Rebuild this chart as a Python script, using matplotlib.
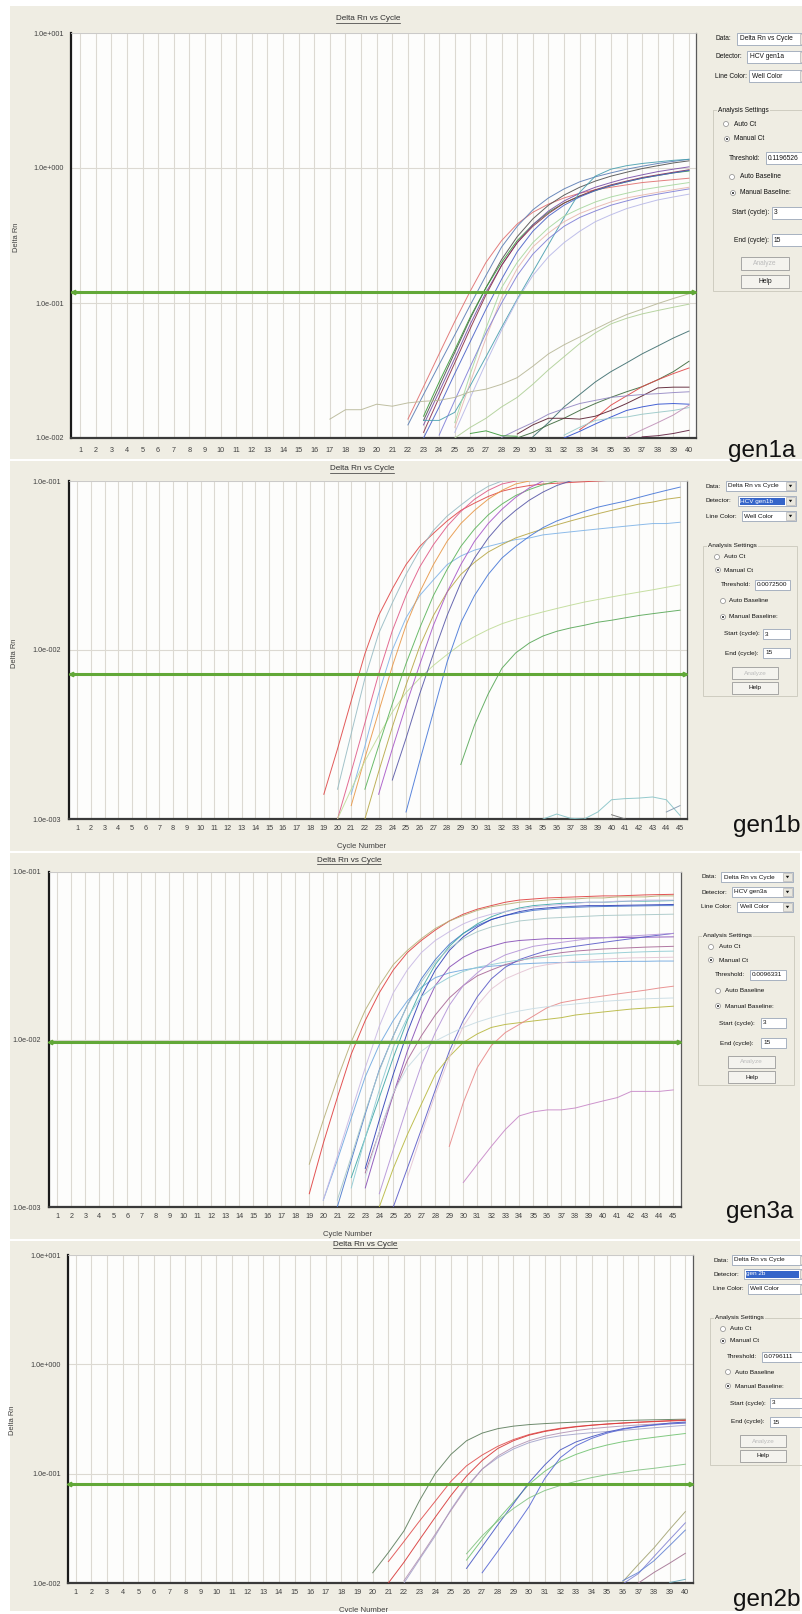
import matplotlib.pyplot as plt
import matplotlib.patches as patches
from matplotlib.ticker import NullLocator
import numpy as np

plt.rcParams['font.family'] = ['Liberation Sans', 'DejaVu Sans']

W, H = 802, 1614
BEIGE = '#efede3'
PLOT_BG = '#fdfdfc'
GRID = '#dcd9d2'
THRESH = '#62a838'

# ---------------- data: Delta Rn per cycle, each well starts at *_start ----------------
gen1a_threshold = 0.1196526
gen1a_start = [22, 22, 23, 23, 23, 23, 23, 23, 25, 25, 24, 25,
               17, 25, 30, 29, 33, 29, 28, 32, 32, 36, 37, 26]
gen1a_drn = [
    [0.0138, 0.024, 0.042, 0.073, 0.123, 0.20, 0.29, 0.385, 0.47, 0.54, 0.60, 0.65, 0.69, 0.72, 0.75, 0.78, 0.80, 0.82, 0.84],
    [0.0125, 0.021, 0.035, 0.058, 0.097, 0.16, 0.26, 0.37, 0.49, 0.60, 0.70, 0.79, 0.86, 0.92, 0.98, 1.03, 1.08, 1.12, 1.16],
    [0.0135, 0.024, 0.043, 0.077, 0.13, 0.21, 0.31, 0.42, 0.53, 0.63, 0.72, 0.80, 0.87, 0.93, 0.99, 1.04, 1.09, 1.13],
    [0.0145, 0.026, 0.045, 0.079, 0.13, 0.20, 0.29, 0.38, 0.47, 0.55, 0.62, 0.68, 0.74, 0.79, 0.84, 0.88, 0.92, 0.95],
    [0.0125, 0.022, 0.039, 0.07, 0.12, 0.19, 0.28, 0.38, 0.48, 0.57, 0.65, 0.72, 0.78, 0.84, 0.89, 0.94, 0.98, 1.02],
    [0.011, 0.02, 0.036, 0.065, 0.115, 0.19, 0.28, 0.37, 0.46, 0.55, 0.62, 0.69, 0.75, 0.80, 0.85, 0.89, 0.93, 0.97],
    [0.010, 0.017, 0.03, 0.052, 0.09, 0.15, 0.24, 0.34, 0.44, 0.53, 0.61, 0.68, 0.74, 0.79, 0.84, 0.88, 0.92, 0.96],
    [0.0135, 0.0135, 0.0155, 0.0245, 0.040, 0.066, 0.107, 0.17, 0.27, 0.43, 0.66, 0.87, 0.98, 1.04, 1.08, 1.11, 1.14, 1.16],
    [0.013, 0.03, 0.065, 0.13, 0.2, 0.28, 0.36, 0.44, 0.5, 0.56, 0.61, 0.65, 0.69, 0.72, 0.75, 0.78],
    [0.012, 0.026, 0.055, 0.11, 0.18, 0.26, 0.33, 0.4, 0.46, 0.51, 0.56, 0.6, 0.63, 0.66, 0.69, 0.72],
    [0.0105, 0.019, 0.034, 0.06, 0.10, 0.16, 0.23, 0.3, 0.37, 0.43, 0.48, 0.53, 0.57, 0.61, 0.64, 0.67, 0.70],
    [0.011, 0.02, 0.036, 0.063, 0.105, 0.16, 0.22, 0.28, 0.34, 0.4, 0.45, 0.5, 0.54, 0.58, 0.61, 0.64],
    [0.0138, 0.0162, 0.0162, 0.0178, 0.0172, 0.0182, 0.0187, 0.019, 0.020, 0.022, 0.023, 0.025,
     0.028, 0.034, 0.042, 0.049, 0.056, 0.064, 0.073, 0.082, 0.09, 0.099, 0.108, 0.117],
    [0.010, 0.012, 0.014, 0.017, 0.020, 0.025, 0.032, 0.040, 0.050, 0.060, 0.070, 0.077, 0.083, 0.088, 0.093, 0.098],
    [0.0102, 0.013, 0.017, 0.021, 0.026, 0.031, 0.036, 0.042, 0.048, 0.055, 0.062],
    [0.010, 0.011, 0.0125, 0.014, 0.016, 0.018, 0.020, 0.022, 0.024, 0.027, 0.031, 0.037],
    [0.0115, 0.014, 0.0175, 0.0205, 0.024, 0.027, 0.030, 0.033],
    [0.0107, 0.0125, 0.014, 0.014, 0.0138, 0.0145, 0.016, 0.018, 0.0205, 0.0235, 0.0238, 0.0238],
    [0.0101, 0.0115, 0.013, 0.015, 0.0165, 0.018, 0.019, 0.020, 0.0205, 0.021, 0.0213, 0.0217, 0.022],
    [0.010, 0.0112, 0.0127, 0.0143, 0.016, 0.017, 0.0178, 0.018, 0.0178],
    [0.0105, 0.012, 0.0135, 0.014, 0.0143, 0.015, 0.0155, 0.016, 0.0168],
    [0.0101, 0.0115, 0.013, 0.0148, 0.0175],
    [0.0102, 0.0104, 0.0108, 0.0114],
    [0.0108, 0.0113, 0.0104, 0.0103],
]
gen1a_colors = ['#e07070', '#5b7db5', '#505050', '#3a9a3a', '#7a4fa8', '#8a3048', '#4a62c8', '#4aa0b0',
                '#a8d8a0', '#e8b8b0', '#8080d8', '#b8b8e8', '#b8b898', '#b0d098', '#3f6f70', '#3d6a3d',
                '#e04848', '#5a1e30', '#9488c4', '#3050d0', '#98c8c8', '#c090b8', '#602040', '#3c9a3c']

gen1b_threshold = 0.0072500
gen1b_start = [19, 20, 20, 21, 21, 20, 22, 22, 23, 24, 25, 29, 35, 40, 44]
gen1b_drn = [
    [0.0014, 0.0026, 0.005, 0.0095, 0.016, 0.023, 0.032, 0.041, 0.049, 0.058, 0.067, 0.074, 0.081,
     0.087, 0.091, 0.094, 0.096, 0.097, 0.098, 0.099, 0.1, 0.101, 0.102],
    [0.0015, 0.0032, 0.0068, 0.0125, 0.019, 0.028, 0.039, 0.051, 0.062, 0.072, 0.083, 0.093, 0.1, 0.107],
    [0.001, 0.0019, 0.0037, 0.0072, 0.013, 0.021, 0.031, 0.042, 0.054, 0.066, 0.078, 0.088, 0.096, 0.1, 0.104],
    [0.0014, 0.0027, 0.0055, 0.01, 0.0155, 0.021, 0.026, 0.032, 0.036, 0.039, 0.041, 0.043, 0.045,
     0.046, 0.048, 0.049, 0.05, 0.051, 0.052, 0.053, 0.054, 0.055, 0.056, 0.056, 0.057],
    [0.0012, 0.0023, 0.0043, 0.008, 0.014, 0.022, 0.032, 0.044, 0.056, 0.067, 0.078, 0.088, 0.096, 0.1, 0.104],
    [0.001, 0.0015, 0.0022, 0.0031, 0.0043, 0.0056, 0.0068, 0.0081, 0.0094, 0.0108, 0.012, 0.0132, 0.0143,
     0.0152, 0.016, 0.0168, 0.0176, 0.0184, 0.0192, 0.0199, 0.0206, 0.0213, 0.022, 0.0227, 0.0235, 0.0243],
    [0.0015, 0.0027, 0.0048, 0.0083, 0.0135, 0.021, 0.03, 0.041, 0.052, 0.063, 0.073, 0.082, 0.089, 0.095, 0.1, 0.104],
    [0.001, 0.0019, 0.0035, 0.0062, 0.0105, 0.016, 0.022, 0.028, 0.033, 0.038, 0.042, 0.046, 0.049,
     0.052, 0.055, 0.058, 0.061, 0.064, 0.067, 0.07, 0.073, 0.075, 0.078, 0.08],
    [0.0014, 0.0026, 0.0047, 0.0082, 0.014, 0.022, 0.032, 0.044, 0.056, 0.068, 0.080, 0.091, 0.1, 0.108],
    [0.0017, 0.003, 0.0055, 0.0095, 0.016, 0.025, 0.035, 0.046, 0.057, 0.067, 0.077, 0.086, 0.094, 0.1, 0.105],
    [0.0011, 0.0022, 0.0043, 0.0085, 0.0145, 0.021, 0.028, 0.035, 0.041, 0.047, 0.053, 0.058, 0.062,
     0.066, 0.07, 0.073, 0.076, 0.080, 0.084, 0.088, 0.092],
    [0.0021, 0.0036, 0.0055, 0.0078, 0.0096, 0.011, 0.0121, 0.0129, 0.0135, 0.014, 0.0146, 0.015,
     0.0155, 0.016, 0.0164, 0.0168, 0.0172],
    [0.001, 0.00107, 0.00101, 0.001, 0.0011, 0.0013, 0.00132, 0.00133, 0.00135, 0.0013, 0.00105],
    [0.00106, 0.001],
    [0.0011, 0.0012],
]
gen1b_colors = ['#e04848', '#98bcc4', '#e05c88', '#80b4e8', '#e89848', '#c0dc98', '#5cb45c', '#b8a848',
                '#a858c8', '#5858a8', '#4878d8', '#58a858', '#88c4c8', '#707070', '#8098b0']

gen3a_threshold = 0.0096331
gen3a_start = [19, 19, 20, 21, 23, 22, 23, 23, 25, 24, 29, 30, 23, 22, 21, 20, 26, 24]
gen3a_drn = [
    [0.0012, 0.0024, 0.0045, 0.0082, 0.013, 0.019, 0.026, 0.033, 0.039, 0.045, 0.051, 0.056, 0.06, 0.063,
     0.066, 0.068, 0.069, 0.07, 0.0705, 0.071, 0.0715, 0.072, 0.072, 0.0725, 0.073, 0.0733, 0.0736],
    [0.0018, 0.0033, 0.0058, 0.0097, 0.015, 0.021, 0.028, 0.034, 0.04, 0.046, 0.051, 0.055, 0.059, 0.062,
     0.064, 0.066, 0.067, 0.068, 0.069, 0.069, 0.07, 0.07, 0.071, 0.071, 0.071, 0.072, 0.072],
    [0.0011, 0.0019, 0.0034, 0.006, 0.0093, 0.013, 0.017, 0.0205, 0.0234, 0.025, 0.026, 0.0268, 0.0274,
     0.0278, 0.0282, 0.0285, 0.0287, 0.0288, 0.0289, 0.029, 0.0291, 0.0292, 0.0293, 0.0293, 0.0294, 0.0294],
    [0.001, 0.0019, 0.0036, 0.0066, 0.0105, 0.016, 0.023, 0.03, 0.037, 0.043, 0.048, 0.052, 0.055, 0.057,
     0.059, 0.06, 0.061, 0.0615, 0.062, 0.0622, 0.0624, 0.0626, 0.0628, 0.063, 0.063],
    [0.0017, 0.0033, 0.0062, 0.011, 0.018, 0.026, 0.034, 0.041, 0.047, 0.052, 0.055, 0.058, 0.06, 0.061,
     0.062, 0.0625, 0.063, 0.063, 0.0632, 0.0634, 0.0636, 0.0638, 0.064],
    [0.0015, 0.0026, 0.0045, 0.0078, 0.013, 0.02, 0.028, 0.036, 0.043, 0.049, 0.054, 0.058, 0.061, 0.063,
     0.064, 0.065, 0.0655, 0.066, 0.066, 0.0665, 0.067, 0.067, 0.0672, 0.0675],
    [0.0013, 0.0025, 0.0047, 0.0085, 0.014, 0.021, 0.027, 0.031, 0.034, 0.036, 0.038, 0.039, 0.0395, 0.04,
     0.04, 0.0402, 0.0404, 0.0405, 0.0406, 0.0407, 0.0408, 0.0409, 0.041],
    [0.0016, 0.0028, 0.0047, 0.0075, 0.0105, 0.014, 0.0177, 0.021, 0.024, 0.026, 0.028, 0.0295, 0.031,
     0.032, 0.033, 0.0337, 0.0342, 0.0347, 0.035, 0.0353, 0.0356, 0.0358, 0.036],
    [0.001, 0.0017, 0.0029, 0.005, 0.0085, 0.013, 0.018, 0.023, 0.027, 0.03, 0.032, 0.034, 0.035, 0.036,
     0.037, 0.038, 0.039, 0.040, 0.041, 0.042, 0.043],
    [0.001, 0.0017, 0.0027, 0.0041, 0.0062, 0.0079, 0.0096, 0.0108, 0.0118, 0.0123, 0.0126, 0.0129,
     0.0132, 0.0135, 0.014, 0.0143, 0.0146, 0.0149, 0.0152, 0.0154, 0.0156, 0.0158],
    [0.0023, 0.0042, 0.0068, 0.0092, 0.011, 0.0123, 0.0138, 0.0155, 0.0166, 0.0172, 0.0177, 0.0182,
     0.0187, 0.0192, 0.0197, 0.0203, 0.0208],
    [0.0014, 0.0018, 0.0023, 0.0029, 0.0035, 0.0037, 0.0038, 0.0038, 0.0039, 0.0041, 0.0043, 0.0045,
     0.0049, 0.0049, 0.0049, 0.005],
    [0.0015, 0.0028, 0.0048, 0.0068, 0.0085, 0.0098, 0.0108, 0.0118, 0.0127, 0.0135, 0.0142, 0.0148,
     0.0153, 0.0157, 0.016, 0.0163, 0.0166, 0.0169, 0.0171, 0.0173, 0.0175, 0.0176, 0.0177],
    [0.0013, 0.0026, 0.005, 0.009, 0.0135, 0.018, 0.021, 0.0235, 0.0255, 0.027, 0.028, 0.029, 0.0298,
     0.0305, 0.031, 0.0315, 0.032, 0.0323, 0.0326, 0.0329, 0.0332, 0.0334, 0.0336, 0.0337],
    [0.0011, 0.002, 0.0037, 0.0065, 0.0105, 0.016, 0.022, 0.029, 0.035, 0.04, 0.044, 0.047, 0.049, 0.051,
     0.052, 0.053, 0.0535, 0.054, 0.0545, 0.055, 0.0552, 0.0554, 0.0556, 0.0558, 0.056],
    [0.0011, 0.002, 0.0037, 0.0068, 0.012, 0.019, 0.026, 0.033, 0.039, 0.044, 0.049, 0.053, 0.056, 0.058,
     0.06, 0.062, 0.063, 0.064, 0.065, 0.066, 0.066, 0.067, 0.067, 0.068, 0.068, 0.068],
    [0.0015, 0.0027, 0.0047, 0.0078, 0.012, 0.016, 0.02, 0.023, 0.025, 0.027, 0.028, 0.0287, 0.0293,
     0.0298, 0.0302, 0.0305, 0.0307, 0.0308, 0.0309, 0.031],
    [0.0012, 0.0022, 0.004, 0.007, 0.011, 0.016, 0.021, 0.025, 0.029, 0.032, 0.034, 0.036, 0.037, 0.038,
     0.039, 0.040, 0.0405, 0.041, 0.0415, 0.042, 0.0425, 0.043],
]
gen3a_colors = ['#e04040', '#b8b078', '#70a8e0', '#4a78cc', '#3040b8', '#40a8a8', '#8850b8', '#a86898',
                '#5c5cc8', '#b8b840', '#e88888', '#c888c8', '#c8dce4', '#90ccd4', '#a8c8c8', '#c8b8e4',
                '#e4c4d4', '#b494d8']

gen2b_threshold = 0.0796111
gen2b_start = [20, 21, 21, 22, 22, 26, 26, 27, 26, 36, 36, 36, 37, 39]
gen2b_drn = [
    [0.0124, 0.019, 0.03, 0.057, 0.1, 0.15, 0.2, 0.235, 0.258, 0.272, 0.281, 0.287, 0.292, 0.296, 0.3,
     0.303, 0.306, 0.309, 0.311, 0.313, 0.315],
    [0.0157, 0.024, 0.037, 0.056, 0.085, 0.118, 0.148, 0.178, 0.205, 0.228, 0.246, 0.26, 0.27, 0.278,
     0.285, 0.291, 0.296, 0.301, 0.306, 0.31],
    [0.01, 0.0155, 0.025, 0.04, 0.063, 0.095, 0.132, 0.17, 0.2, 0.225, 0.243, 0.257, 0.268, 0.277, 0.284,
     0.29, 0.295, 0.299, 0.303, 0.307],
    [0.01, 0.0165, 0.027, 0.047, 0.076, 0.11, 0.14, 0.168, 0.192, 0.21, 0.222, 0.23, 0.237, 0.243, 0.249,
     0.256, 0.263, 0.27, 0.277],
    [0.0105, 0.017, 0.028, 0.046, 0.074, 0.11, 0.145, 0.175, 0.2, 0.22, 0.235, 0.248, 0.258, 0.266, 0.273,
     0.279, 0.284, 0.289, 0.293],
    [0.0162, 0.025, 0.038, 0.055, 0.08, 0.105, 0.13, 0.15, 0.168, 0.183, 0.196, 0.206, 0.215, 0.224, 0.233],
    [0.0136, 0.0215, 0.034, 0.053, 0.083, 0.12, 0.165, 0.195, 0.218, 0.24, 0.258, 0.27, 0.28, 0.29, 0.297],
    [0.0124, 0.0195, 0.031, 0.05, 0.09, 0.14, 0.18, 0.21, 0.235, 0.255, 0.268, 0.278, 0.285, 0.29],
    [0.0185, 0.027, 0.037, 0.048, 0.06, 0.07, 0.078, 0.085, 0.092, 0.098, 0.103, 0.108, 0.112, 0.117, 0.122],
    [0.0103, 0.0148, 0.021, 0.031, 0.045],
    [0.0098, 0.0122, 0.0175, 0.025, 0.0355],
    [0.0105, 0.0125, 0.016, 0.022, 0.0305],
    [0.01, 0.0125, 0.0152, 0.0187],
    [0.0101, 0.0108],
]
gen2b_colors = ['#5e7e5e', '#e05050', '#d83838', '#a4a4cc', '#b494b4', '#74c474', '#4858c4', '#5868d4',
                '#84c484', '#a4a474', '#8484d4', '#6484d4', '#a47494', '#68a8b8']

# ---------------- layout (pixels, origin top-left) ----------------
panels = [
    dict(tag='gen1a', start=gen1a_start, drn=gen1a_drn, colors=gen1a_colors, thr=gen1a_threshold,
         thr_text='0.1196526', detector='HCV gen1a', n=40, ylim=(1e-2, 1e1),
         bg=(10, 6, 802, 459), box=(71, 33, 696, 438), xlim=(0.42, 40.45), xpad=6.2, ypad=5.0,
         title=(368, 19), ylabel=(17, 237), xlabel=None, tagpos=(762, 451),
         ui=dict(lab_x=715, rows=(39, 57, 76), combo_x=(737, 747, 749), combo_r=810, combo_h=12, hl=False,
                 grp=(713, 110, 810, 291), ct=((726, 124), (727, 139)), ct_tx=734,
                 thr_lab=(729, 158), thr_box=(766, 810), bl=((732, 177), (733, 193)), bl_tx=740,
                 start_lab=(732, 213), start_box=(772, 810), end_lab=(734, 240), end_box=(772, 810),
                 btn_x=(741, 789), analyze_y=(257, 270), help_y=(275, 288), fs=4.8)),
    dict(tag='gen1b', start=gen1b_start, drn=gen1b_drn, colors=gen1b_colors, thr=gen1b_threshold,
         thr_text='0.0072500', detector='HCV gen1b', n=45, ylim=(1e-3, 1e-1),
         bg=(10, 461, 802, 851), box=(69, 481, 687, 819), xlim=(0.40, 45.51), xpad=4.6, ypad=5.5,
         title=(362, 469), ylabel=(15, 653), xlabel=(362, 846), tagpos=(767, 826),
         ui=dict(lab_x=706, rows=(486, 501, 516), combo_x=(726, 738, 742), combo_r=796, combo_h=10, hl=True,
                 grp=(703, 546, 797, 696), ct=((717, 557), (718, 570)), ct_tx=724,
                 thr_lab=(721, 585), thr_box=(755, 790), bl=((723, 601), (723, 617)), bl_tx=729,
                 start_lab=(724, 634), start_box=(763, 790), end_lab=(725, 653), end_box=(763, 790),
                 btn_x=(732, 778), analyze_y=(667, 679), help_y=(682, 694), fs=4.6)),
    dict(tag='gen3a', start=gen3a_start, drn=gen3a_drn, colors=gen3a_colors, thr=gen3a_threshold,
         thr_text='0.0096331', detector='HCV gen3a', n=45, ylim=(1e-3, 1e-1),
         bg=(10, 853, 800, 1239), box=(48.6, 872, 681, 1207), xlim=(0.38, 45.55), xpad=4.6, ypad=5.3,
         title=(349, 860), ylabel=None, xlabel=(348, 1234), tagpos=(760, 1212),
         ui=dict(lab_x=701, rows=(877, 892, 907), combo_x=(721, 732, 737), combo_r=793, combo_h=10, hl=False,
                 grp=(698, 936, 794, 1085), ct=((711, 947), (711, 960)), ct_tx=719,
                 thr_lab=(715, 975), thr_box=(750, 786), bl=((718, 991), (718, 1006)), bl_tx=725,
                 start_lab=(719, 1023), start_box=(761, 786), end_lab=(720, 1043), end_box=(761, 786),
                 btn_x=(728, 775), analyze_y=(1056, 1068), help_y=(1071, 1083), fs=4.6)),
    dict(tag='gen2b', start=gen2b_start, drn=gen2b_drn, colors=gen2b_colors, thr=gen2b_threshold,
         thr_text='0.0796111', detector='gen 2b', n=40, ylim=(1e-2, 1e1),
         bg=(10, 1241, 800, 1611), box=(67.5, 1255, 693, 1583), xlim=(0.47, 40.49), xpad=4.6, ypad=4.8,
         title=(365, 1244), ylabel=(13, 1420), xlabel=(364, 1611), tagpos=(767, 1600),
         ui=dict(lab_x=713, rows=(1260, 1274, 1289), combo_x=(732, 744, 748), combo_r=810, combo_h=10, hl=True,
                 grp=(710, 1318, 810, 1465), ct=((723, 1329), (723, 1341)), ct_tx=730,
                 thr_lab=(727, 1357), thr_box=(762, 810), bl=((728, 1372), (728, 1386)), bl_tx=735,
                 start_lab=(730, 1403), start_box=(770, 810), end_lab=(731, 1422), end_box=(770, 810),
                 btn_x=(740, 786), analyze_y=(1435, 1447), help_y=(1450, 1462), fs=4.6)),
]


def px_axes(fig, l, t, r, b, zorder=1):
    return fig.add_axes([l / W, 1 - b / H, (r - l) / W, (b - t) / H], zorder=zorder)


def ui_text(bg, x, y, s, fs, color='#111111', ha='left', **kw):
    return bg.text(x, y, s, fontsize=fs, ha=ha, va='center', color=color, **kw)


def combo(bg, x0, x1, y, h, s, fs, highlight=False):
    bg.add_patch(patches.Rectangle((x0, y - h / 2), x1 - x0, h, fc='white', ec='#9aa6b8', lw=0.6))
    bx = x1 - 10
    if highlight:
        bg.add_patch(patches.Rectangle((x0 + 1.5, y - h / 2 + 1.5), bx - x0 - 3, h - 3, fc='#3565c9', ec='none'))
    ui_text(bg, x0 + 2.5, y, s, fs, color='white' if highlight else '#111111')
    bg.add_patch(patches.Rectangle((bx, y - h / 2 + 1), 9, h - 2, fc='#e9e7de', ec='#a8a8a8', lw=0.4))
    bg.add_patch(patches.Polygon([(bx + 2.8, y - 1.2), (bx + 6.2, y - 1.2), (bx + 4.5, y + 1.3)],
                                 closed=True, fc='#111111', ec='none'))


def field(bg, x0, x1, y, h, s, fs):
    bg.add_patch(patches.Rectangle((x0, y - h / 2), x1 - x0, h, fc='white', ec='#9aa6b8', lw=0.6))
    ui_text(bg, x0 + 2, y, s, fs)


def radio(bg, x, y, selected):
    bg.add_patch(patches.Circle((x, y), 2.5, fc='white', ec='#8a8a8a', lw=0.5))
    if selected:
        bg.add_patch(patches.Circle((x, y), 1.0, fc='#202020', ec='none'))


def button(bg, x0, x1, y0, y1, s, fs, enabled=True):
    bg.add_patch(patches.Rectangle((x0, y0), x1 - x0, y1 - y0, fc='#f4f3ee', ec='#9a9a9a', lw=0.6))
    ui_text(bg, (x0 + x1) / 2, (y0 + y1) / 2, s, fs, ha='center',
            color='#111111' if enabled else '#bcbcbc')


def draw_controls(bg, p):
    u = p['ui']
    fs = u['fs']
    labels = ['Data:', 'Detector:', 'Line Color:']
    values = ['Delta Rn vs Cycle', p['detector'], 'Well Color']
    for i, (lab, val, y, x0) in enumerate(zip(labels, values, u['rows'], u['combo_x'])):
        ui_text(bg, u['lab_x'], y, lab, fs)
        combo(bg, x0, u['combo_r'], y, u['combo_h'], val, fs, highlight=(i == 1 and u['hl']))

    gx0, gy0, gx1, gy1 = u['grp']
    bg.add_patch(patches.Rectangle((gx0, gy0), gx1 - gx0, gy1 - gy0, fc='none', ec='#cfcdc0', lw=0.7))
    ui_text(bg, gx0 + 5, gy0, 'Analysis Settings', fs, bbox=dict(fc=BEIGE, ec='none', pad=0.6))

    (ax_, ay_), (mx_, my_) = u['ct']
    radio(bg, ax_, ay_, False)
    ui_text(bg, u['ct_tx'], ay_, 'Auto Ct', fs)
    radio(bg, mx_, my_, True)
    ui_text(bg, u['ct_tx'], my_, 'Manual Ct', fs)

    h = u['combo_h']
    ui_text(bg, u['thr_lab'][0], u['thr_lab'][1], 'Threshold:', fs)
    field(bg, u['thr_box'][0], u['thr_box'][1], u['thr_lab'][1], h, p['thr_text'], fs)

    (bx1, by1), (bx2, by2) = u['bl']
    radio(bg, bx1, by1, False)
    ui_text(bg, u['bl_tx'], by1, 'Auto Baseline', fs)
    radio(bg, bx2, by2, True)
    ui_text(bg, u['bl_tx'], by2, 'Manual Baseline:', fs)

    ui_text(bg, u['start_lab'][0], u['start_lab'][1], 'Start (cycle):', fs)
    field(bg, u['start_box'][0], u['start_box'][1], u['start_lab'][1], h, '3', fs)
    ui_text(bg, u['end_lab'][0], u['end_lab'][1], 'End (cycle):', fs)
    field(bg, u['end_box'][0], u['end_box'][1], u['end_lab'][1], h, '15', fs)

    button(bg, u['btn_x'][0], u['btn_x'][1], *u['analyze_y'], 'Analyze', fs, enabled=False)
    button(bg, u['btn_x'][0], u['btn_x'][1], *u['help_y'], 'Help', fs)


def draw_plot(ax, p):
    ax.set_facecolor(PLOT_BG)
    for s, vals, c in zip(p['start'], p['drn'], p['colors']):
        cyc = np.arange(s, s + len(vals))
        ax.plot(cyc, vals, color=c, lw=0.7, alpha=0.9, zorder=3)

    ax.set_yscale('log')
    ax.set_ylim(*p['ylim'])
    ax.set_xlim(*p['xlim'])
    cycles = np.arange(1, p['n'] + 1)
    ax.set_xticks(cycles)
    ax.set_xticklabels([str(c) for c in cycles])
    exps = np.arange(int(round(np.log10(p['ylim'][0]))), int(round(np.log10(p['ylim'][1]))) + 1)
    ax.set_yticks(10.0 ** exps)
    ax.set_yticklabels([f'1.0e{e:+04d}' for e in exps])
    ax.yaxis.set_minor_locator(NullLocator())
    ax.grid(True, which='major', color=GRID, lw=0.8, zorder=0)
    ax.set_axisbelow(True)
    ax.tick_params(axis='both', length=0, labelsize=5.2, colors='#404040')
    ax.tick_params(axis='x', pad=p['xpad'])
    ax.tick_params(axis='y', pad=p['ypad'])

    for side, lw, col in [('left', 1.6, '#1a1a1a'), ('bottom', 1.6, '#3a3a3a'),
                          ('top', 0.6, '#c8c8c8'), ('right', 0.9, '#5a5a5a')]:
        ax.spines[side].set_linewidth(lw)
        ax.spines[side].set_color(col)

    x0, x1 = p['xlim']
    ax.plot([x0, x1], [p['thr'], p['thr']], color=THRESH, lw=2.2, zorder=4, solid_capstyle='butt')
    ax.plot([x0 + 0.12], [p['thr']], marker='<', ms=3.2, color=THRESH, zorder=5, clip_on=False)
    ax.plot([x1 - 0.12], [p['thr']], marker='>', ms=3.2, color=THRESH, zorder=5, clip_on=False)


fig = plt.figure(figsize=(W / 100, H / 100), dpi=100, facecolor='white')
bg = fig.add_axes([0, 0, 1, 1], zorder=0)
bg.set_xlim(0, W)
bg.set_ylim(H, 0)
bg.axis('off')

titles = []
for p in panels:
    l, t, r, b = p['bg']
    bg.add_patch(patches.Rectangle((l, t), r - l, b - t, fc=BEIGE, ec='none', zorder=0))
    titles.append(bg.text(*p['title'], 'Delta Rn vs Cycle', fontsize=5.9, ha='center', va='center',
                          color='#303030'))
    if p['ylabel'] is not None:
        bg.text(*p['ylabel'], 'Delta Rn', fontsize=5.4, rotation=90, ha='center', va='center', color='#404040')
    if p['xlabel'] is not None:
        bg.text(*p['xlabel'], 'Cycle Number', fontsize=5.6, ha='center', va='center', color='#404040')
    bg.text(*p['tagpos'], p['tag'], fontsize=17.5, ha='center', va='center', color='#111111')
    draw_controls(bg, p)

    ax = px_axes(fig, *p['box'])
    draw_plot(ax, p)

# white strip under the last screenshot (cuts the last axis caption like the original)
bg.add_patch(patches.Rectangle((0, 1611.5), W, 4, fc='white', ec='none', zorder=10))

# underline the chart titles
fig.canvas.draw()
renderer = fig.canvas.get_renderer()
for t in titles:
    bb = t.get_window_extent(renderer)
    yy = H - bb.y0 + 0.6
    bg.plot([bb.x0, bb.x1], [yy, yy], color='#303030', lw=0.5)

fig.savefig('out.png', dpi=100, facecolor='white')
